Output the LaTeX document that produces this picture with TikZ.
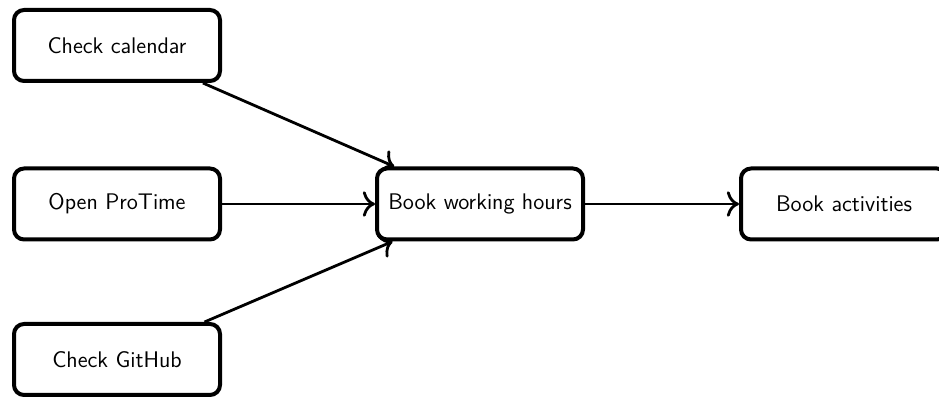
\documentclass[tikz,border=0pt]{standalone}
\usetikzlibrary{arrows.meta}
\begin{document}
\sffamily
\begin{tikzpicture}[x=0.5pt,y=-0.5pt,
  stepbox/.style={draw=black, line width=2pt, rounded corners=5pt,
    minimum width=103pt, minimum height=35.5pt, inner sep=2pt,
    fill=white, font=\sffamily\fontsize{11.3}{13.5}\selectfont},
  flow/.style={-{Computer Modern Rightarrow[scale=1.3]}, line width=1.4pt}]
\useasboundingbox (0,0) rectangle (939,399);
\node[stepbox] (cal) at (117,45.5) {Check calendar};
\node[stepbox] (pro) at (117,204) {Open ProTime};
\node[stepbox] (git) at (117,359.5) {Check GitHub};
\node[stepbox] (hrs) at (480,204) {Book working hours};
\node[stepbox] (act) at (844,204) {Book activities};
\draw[flow] (cal) -- (hrs);
\draw[flow] (pro) -- (hrs);
\draw[flow] (git) -- (hrs);
\draw[flow] (hrs) -- (act);
\end{tikzpicture}
\end{document}
